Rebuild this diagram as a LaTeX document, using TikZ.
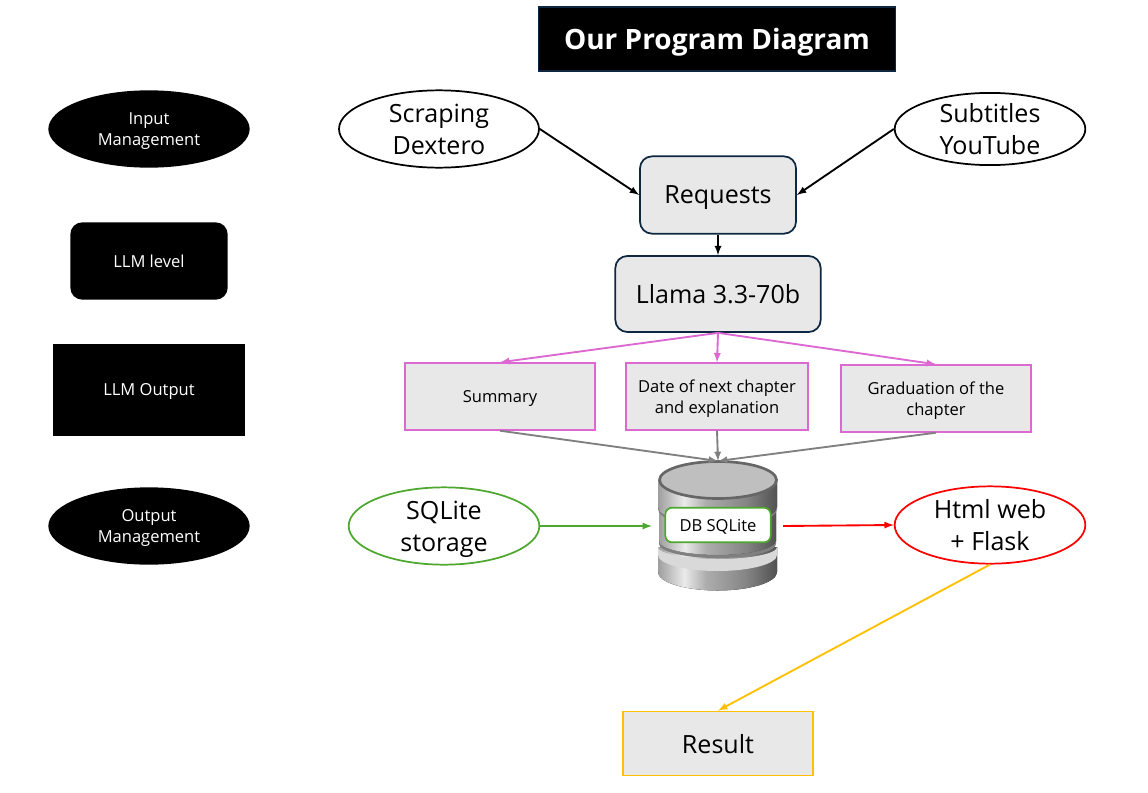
\documentclass[tikz,border=0pt]{standalone}
\usepackage{fontspec}
\setmainfont{Open Sans}
\usetikzlibrary{shapes.geometric, arrows, positioning}

\definecolor{boxgray}{RGB}{232,232,232}
\definecolor{darkedge}{RGB}{14,40,65}
\definecolor{pinkline}{RGB}{220,105,210}
\definecolor{greenline}{RGB}{78,167,46}
\definecolor{yellowline}{RGB}{255,192,0}

\pgfdeclarehorizontalshading{dbside}{100bp}{color(0bp)=(black!38); color(25bp)=(black!38); color(36bp)=(black!8); color(45bp)=(black!32); color(62bp)=(black!48); color(75bp)=(black!68); color(100bp)=(black!68)}

\tikzset{
  bigtext/.style={font=\fontsize{18.8}{24}\selectfont, text depth=0pt},
  smalltext/.style={font=\fontsize{12.4}{16}\selectfont, text depth=0pt},
  levelbox/.style={fill=black, text=white, smalltext, align=center, inner sep=0},
  source/.style={ellipse, draw, fill=white, line width=1.3pt, inner sep=0, align=center, bigtext, minimum width=143pt, minimum height=58pt},
  process/.style={rectangle, rounded corners=9pt, draw=darkedge, fill=boxgray, line width=1.3pt, bigtext},
  output/.style={rectangle, draw=pinkline, fill=boxgray, line width=1.3pt, align=center, smalltext, minimum width=143pt, minimum height=50pt, inner sep=0},
  link/.style={-latex, line width=1.4pt}
}

\begin{document}
\begin{tikzpicture}[x=0.75pt, y=-0.75pt]

\useasboundingbox (0,0) rectangle (1148,792);

% title
\node[rectangle, draw=darkedge, fill=black, text=white, line width=1pt, minimum width=268pt, minimum height=48pt, text depth=0pt, font=\fontsize{21}{24}\bfseries] (title) at (717,39) {Our Program Diagram};

% levels
\node[levelbox, ellipse, minimum width=151pt, minimum height=58pt] (inputlevel) at (149,129) {Input\\Management};
\node[levelbox, rectangle, rounded corners=9pt, minimum width=118pt, minimum height=58pt] (llmlevel) at (149,261) {LLM level};
\node[levelbox, rectangle, minimum width=144pt, minimum height=69pt] (outputlevel) at (149,390) {LLM Output};
\node[levelbox, ellipse, minimum width=151pt, minimum height=58pt] (storelevel) at (149,526) {Output\\Management};

% input
\node[source, minimum width=150pt] (scraping) at (439,129) {Scraping\\Dextero};
\node[source, minimum height=53pt] (subtitles) at (990,129) {Subtitles\\YouTube};
\node[process, minimum width=117pt, minimum height=58pt] (requests) at (718,195) {Requests};
\node[process, minimum width=154pt, minimum height=57pt] (llama) at (718,294) {Llama 3.3-70b};

% outputs
\node[output] (summary) at (500,396.5) {Summary};
\node[output, minimum width=136pt] (nextdate) at (717,396.5) {Date of next chapter\\and explanation};
\node[output] (graduation) at (936,398.5) {Graduation of the\\chapter};

% database drum
\fill[shading=dbside] (658,547) -- (658,572) arc[start angle=180, end angle=0, x radius=59.5, y radius=18.5] -- (777,547) -- cycle;
\fill[black!15] (658,547) arc[start angle=180, end angle=0, x radius=59.5, y radius=12] -- (777,555) arc[start angle=0, end angle=180, x radius=59.5, y radius=16] -- cycle;
\fill[shading=dbside] (659,510) -- (659,541) arc[start angle=180, end angle=0, x radius=58.5, y radius=14] -- (776,510) -- cycle;
\fill[black!50] (659,541) arc[start angle=180, end angle=0, x radius=58.5, y radius=14] -- (776,544) arc[start angle=0, end angle=180, x radius=58.5, y radius=14] -- cycle;
\fill[shading=dbside] (658,480) -- (658,507) arc[start angle=180, end angle=0, x radius=59.5, y radius=18] -- (777,480) -- cycle;
\fill[black!50] (658,507) arc[start angle=180, end angle=0, x radius=59.5, y radius=18] -- (777,509) arc[start angle=0, end angle=180, x radius=59.5, y radius=18] -- cycle;
\draw[line width=2pt, fill=black!25, draw=black!60] (718,480) ellipse[x radius=58.5, y radius=18.5];

\coordinate (dbtop) at (718,461);
\coordinate (dbleft) at (652,526);
\coordinate (dbright) at (783,526);
\node[rectangle, rounded corners=5pt, draw=greenline, fill=white, line width=1.3pt, minimum width=79pt, minimum height=26pt, inner sep=0, smalltext] (dblabel) at (718,525) {DB SQLite};

% output side
\node[source, draw=greenline] (sqlite) at (444,526) {SQLite\\storage};
\node[source, draw=red] (html) at (990,525) {Html web\\+ Flask};
\node[rectangle, draw=yellowline, fill=boxgray, line width=1.3pt, minimum width=142pt, minimum height=48pt, bigtext] (result) at (718,743.5) {Result};

\draw[link] (scraping.east) -- (requests.west);
\draw[link] (subtitles.west) -- (requests.east);
\draw[link] (requests.south) -- (llama.north);

\draw[link, pinkline] (llama.south) -- (summary.north);
\draw[link, pinkline] (llama.south) -- (nextdate.north);
\draw[link, pinkline] (llama.south) -- (graduation.north);

\draw[link, gray] (summary.south) -- (dbtop);
\draw[link, gray] (nextdate.south) -- (dbtop);
\draw[link, gray] (graduation.south) -- (dbtop);

\draw[link, greenline] (sqlite.east) -- (dbleft);
\draw[link, red] (dbright) -- (html.west);
\draw[link, yellowline] (html.south) -- (result.north);

\end{tikzpicture}
\end{document}
